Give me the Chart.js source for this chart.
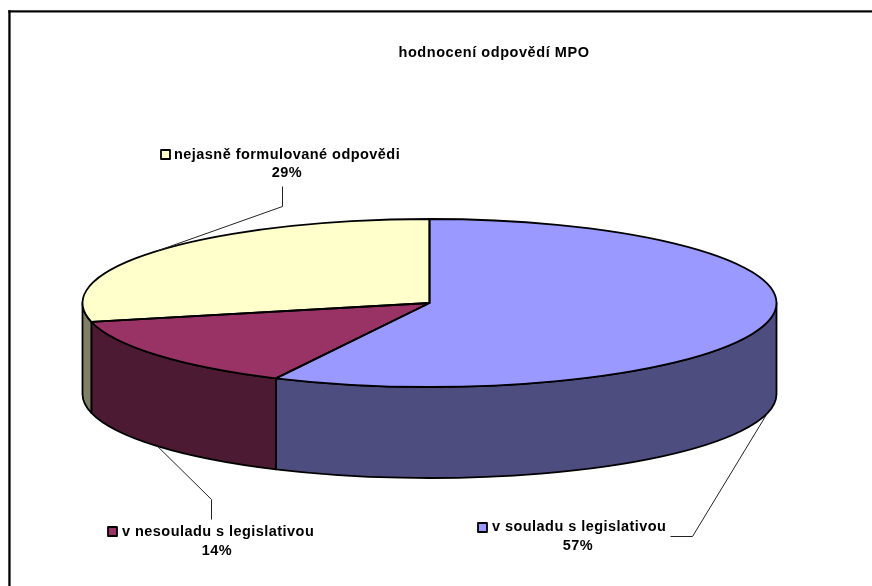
<!DOCTYPE html>
<html>
<head>
<meta charset="utf-8">
<style>html,body{margin:0;padding:0;background:#fff}canvas{display:block}</style>
<script src="https://cdn.jsdelivr.net/npm/chart.js@4"></script>
</head>
<body>
<div style="width:872px;height:586px"><canvas id="c" width="872" height="586"></canvas></div>
<script>
const chartTitle = "hodnocení odpovědí MPO";
const categories = ["v souladu s legislativou", "v nesouladu s legislativou", "nejasně formulované odpovědi"];
const values = [57.3, 14.1, 28.6];
const topColors = ["#9999FF", "#993366", "#FFFFCC"];
const wallColors = ["#4D4D80", "#4D1A33", "#808066"];

const squash = 84 / 347, depth = 91;
const FONT = 'bold 14.5px "Liberation Sans", Arial, sans-serif';

// label layout: text anchor + leader bends, per slice
const labelLayout = [
  {keyX:477, keyY:522, textX:492, textY:527, pctX:578, pctY:546, onWall:true,  leader:[[692,536],[670,536]]},
  {keyX:107, keyY:526, textX:122, textY:532, pctX:217, pctY:551, onWall:true,  leader:[[211,499],[211,519]]},
  {keyX:160, keyY:149, textX:174, textY:155, pctX:287, pctY:173, onWall:false, leader:[[282,206],[282,186]]}
];

function ellipsePath(ctx, a, rx, a1, a2, dy, ccw){
  ctx.ellipse(a.x, a.y + dy, rx, rx * squash, 0, a1, a2, !!ccw);
}

const pie3d = {
  id: 'pie3d',
  beforeDraw(chart){
    const ctx = chart.ctx;
    ctx.save();
    ctx.fillStyle = '#000';
    ctx.fillRect(8.3, 10.3, 2.3, 586);
    ctx.fillRect(8.3, 10.3, 872, 2.2);
    ctx.restore();
  },
  beforeDatasetsDraw(chart){
    const ctx = chart.ctx, arcs = chart.getDatasetMeta(0).data;
    ctx.save();
    ctx.lineWidth = 1.8; ctx.strokeStyle = '#000'; ctx.lineJoin = 'round';
    arcs.forEach((arc, i) => {
      const a1 = Math.max(arc.startAngle, 0), a2 = Math.min(arc.endAngle, Math.PI);
      if (a2 <= a1) return;
      ctx.beginPath();
      ellipsePath(ctx, arc, arc.outerRadius, a1, a2, 0);
      ellipsePath(ctx, arc, arc.outerRadius, a2, a1, depth, true);
      ctx.closePath();
      ctx.fillStyle = wallColors[i];
      ctx.fill();
      ctx.stroke();
    });
    ctx.restore();
  },
  beforeDatasetDraw(chart){
    const ctx = chart.ctx, a = chart.getDatasetMeta(0).data[0];
    ctx.save();
    ctx.translate(a.x, a.y);
    ctx.scale(1, squash);
    ctx.translate(-a.x, -a.y);
  },
  afterDatasetDraw(chart){ chart.ctx.restore(); },
  afterDatasetsDraw(chart){
    const ctx = chart.ctx, arcs = chart.getDatasetMeta(0).data;
    ctx.save();
    ctx.lineWidth = 1.8; ctx.strokeStyle = '#000'; ctx.lineJoin = 'round';
    arcs.forEach(arc => {
      ctx.beginPath();
      ctx.moveTo(arc.x, arc.y);
      ellipsePath(ctx, arc, arc.outerRadius, arc.startAngle, arc.endAngle, 0);
      ctx.closePath();
      ctx.stroke();
    });
    // leader lines start at the mid-angle of each slice
    ctx.lineWidth = 1; ctx.strokeStyle = '#222';
    arcs.forEach((arc, i) => {
      const mid = (arc.startAngle + arc.endAngle) / 2, l = labelLayout[i];
      const x = arc.x + arc.outerRadius * Math.cos(mid);
      const y = arc.y + arc.outerRadius * squash * Math.sin(mid) + (l.onWall ? depth : 0);
      ctx.beginPath();
      ctx.moveTo(x, y);
      l.leader.forEach(p => ctx.lineTo(p[0] + 0.5, p[1] + 0.5));
      ctx.stroke();
    });
    // labels
    ctx.font = FONT; ctx.textBaseline = 'middle'; ctx.fillStyle = '#000';
    ctx.letterSpacing = '0.55px';
    ctx.textAlign = 'center';
    ctx.fillText(chartTitle, 494, 53);
    ctx.letterSpacing = '0.45px';
    arcs.forEach((arc, i) => {
      const l = labelLayout[i];
      ctx.fillStyle = topColors[i];
      ctx.fillRect(l.keyX + 1, l.keyY + 1, 9, 9);
      ctx.strokeStyle = '#000'; ctx.lineWidth = 1.8;
      ctx.strokeRect(l.keyX + 1, l.keyY + 1, 9, 9);
      ctx.fillStyle = '#000';
      ctx.textAlign = 'left';
      ctx.fillText(categories[i], l.textX, l.textY);
      ctx.textAlign = 'center';
      ctx.fillText(Math.round(values[i]) + '%', l.pctX, l.pctY);
    });
    ctx.restore();
  }
};

new Chart(document.getElementById('c'), {
  type: 'pie',
  data: {
    labels: categories,
    datasets: [{ data: values, backgroundColor: topColors, borderWidth: 0, clip: false }]
  },
  options: {
    responsive: false,
    animation: false,
    radius: 347,
    layout: { padding: { left: 0, right: 13, top: 20, bottom: 0 } },
    plugins: { legend: { display: false }, tooltip: { enabled: false }, title: { display: false } }
  },
  plugins: [pie3d]
});
</script>
</body>
</html>
